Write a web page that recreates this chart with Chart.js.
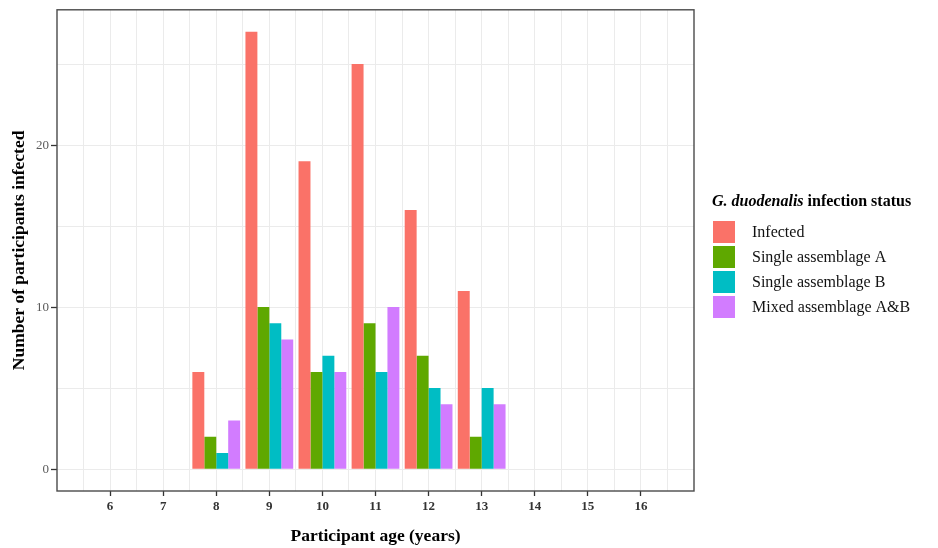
<!DOCTYPE html>
<html>
<head>
<meta charset="utf-8">
<script src="https://cdn.jsdelivr.net/npm/chart.js@4.4.1/dist/chart.umd.min.js"></script>
<style>
  html, body { margin: 0; padding: 0; background: #fff; }
</style>
</head>
<body>
<canvas id="ageChart" width="938" height="548"></canvas>
<script>
// Data
const barAges = [8, 9, 10, 11, 12, 13];
const infected = [6, 27, 19, 25, 16, 11];
const singleA = [2, 10, 6, 9, 7, 2];
const singleB = [1, 9, 7, 6, 5, 5];
const mixedAB = [3, 8, 6, 10, 4, 4];

const ageTicks = [6, 7, 8, 9, 10, 11, 12, 13, 14, 15, 16];
const countTicks = [0, 10, 20];
const seriesNames = ["Infected", "Single assemblage A", "Single assemblage B", "Mixed assemblage A&B"];
const seriesColors = ["#FA7268", "#5FA800", "#00BDC4", "#D27CFF"];

// axis range (ggplot style expansion)
const xMin = 5, xMax = 17;
const yMin = -1.35, yMax = 28.35;

const serif = "'Liberation Serif', 'DejaVu Serif', serif";

// category labels cover the whole x range so bars line up with the linear grid axis
const catLabels = [];
for (let a = xMin; a <= xMax; a++) catLabels.push(String(a));

function spread(values) {
  return catLabels.map(l => {
    const i = barAges.indexOf(Number(l));
    return i === -1 ? null : values[i];
  });
}

const seriesValues = [infected, singleA, singleB, mixedAB];
const datasets = seriesNames.map((name, i) => ({
  label: name,
  data: spread(seriesValues[i]),
  backgroundColor: seriesColors[i],
  borderWidth: 0,
  categoryPercentage: 0.9,
  barPercentage: 1.0,
  xAxisID: "x",
  yAxisID: "y"
}));

function tickVal(c) {
  return c && c.tick ? c.tick.value : null;
}

// panel border + legend with italic species name
const panelAndLegend = {
  id: "panelAndLegend",
  afterDatasetsDraw(chart) {
    const { ctx, chartArea } = chart;
    ctx.save();
    ctx.strokeStyle = "#4a4a4a";
    ctx.lineWidth = 1.4;
    ctx.strokeRect(chartArea.left, chartArea.top, chartArea.right - chartArea.left, chartArea.bottom - chartArea.top);
    ctx.restore();
  },
  afterDraw(chart) {
    const ctx = chart.ctx;
    const lx = 712, ty = 206;
    ctx.save();
    ctx.fillStyle = "#000";
    ctx.textBaseline = "alphabetic";
    ctx.textAlign = "left";
    ctx.font = "italic bold 16px " + serif;
    const part1 = "G. duodenalis";
    ctx.fillText(part1, lx, ty);
    const w1 = ctx.measureText(part1).width;
    ctx.font = "bold 16px " + serif;
    ctx.fillText(" infection status", lx + w1, ty);

    ctx.font = "16px " + serif;
    ctx.textBaseline = "middle";
    seriesNames.forEach((name, i) => {
      const sy = 221 + i * 25;
      ctx.fillStyle = seriesColors[i];
      ctx.fillRect(713, sy, 22, 22);
      ctx.fillStyle = "#111";
      ctx.fillText(name, 752, sy + 12);
    });
    ctx.restore();
  }
};

const chart = new Chart(document.getElementById("ageChart"), {
  type: "bar",
  data: { labels: catLabels, datasets: datasets },
  options: {
    responsive: false,
    animation: false,
    devicePixelRatio: 1,
    layout: { padding: { top: 7, right: 244, left: 0, bottom: 0 } },
    plugins: {
      legend: { display: false },
      tooltip: { enabled: false }
    },
    scales: {
      x: {
        type: "category",
        display: false,
        offset: false,
        grid: { offset: false }
      },
      xg: {
        type: "linear",
        position: "bottom",
        min: xMin,
        max: xMax,
        offset: false,
        afterBuildTicks(scale) {
          const t = [];
          for (let v = xMin + 0.5; v < xMax; v += 0.5) t.push({ value: v });
          scale.ticks = t;
        },
        afterFit(scale) { scale.height = 57; },
        border: { display: false },
        grid: {
          offset: false,
          color: "#ebebeb",
          lineWidth: 1,
          tickLength: 5,
          tickWidth: 1.3,
          tickColor: c => ageTicks.includes(tickVal(c)) ? "#333" : "rgba(0,0,0,0)"
        },
        ticks: {
          autoSkip: false,
          maxRotation: 0,
          padding: 3,
          color: "#333",
          font: { family: serif, size: 13, weight: "bold" },
          callback: v => ageTicks.includes(v) ? String(v) : ""
        },
        title: {
          display: true,
          text: "Participant age (years)",
          color: "#000",
          padding: { top: 0, bottom: 1 },
          font: { family: serif, size: 17.5, weight: "bold" }
        }
      },
      y: {
        type: "linear",
        min: yMin,
        max: yMax,
        afterBuildTicks(scale) {
          const t = [];
          for (let v = 0; v < yMax; v += 5) t.push({ value: v });
          scale.ticks = t;
        },
        afterFit(scale) { scale.width = 57; },
        border: { display: false },
        grid: {
          color: "#ebebeb",
          lineWidth: 1,
          tickLength: 6,
          tickWidth: 1.3,
          tickColor: c => countTicks.includes(tickVal(c)) ? "#333" : "rgba(0,0,0,0)"
        },
        ticks: {
          autoSkip: false,
          padding: 2,
          color: "#5a5a5a",
          font: { family: serif, size: 13 },
          callback: v => countTicks.includes(v) ? String(v) : ""
        },
        title: {
          display: true,
          text: "Number of participants infected",
          color: "#000",
          padding: { top: 9, bottom: 0 },
          font: { family: serif, size: 17.5, weight: "bold" }
        }
      }
    }
  },
  plugins: [panelAndLegend]
});
</script>
</body>
</html>
